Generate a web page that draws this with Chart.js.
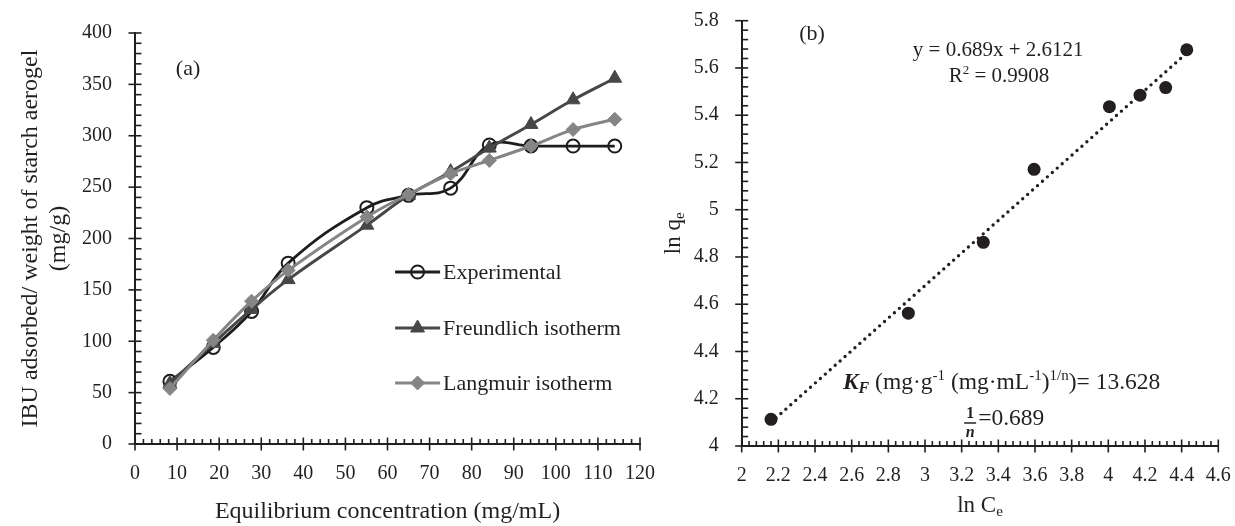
<!DOCTYPE html>
<html>
<head>
<meta charset="utf-8">
<title>IBU adsorption isotherms</title>
<script src="https://cdn.jsdelivr.net/npm/chart.js@4.4.1/dist/chart.umd.min.js"></script>
<style>
  html, body { margin: 0; padding: 0; background: #fff; }
  #wrap { position: relative; width: 1235px; height: 526px; overflow: hidden; }
  #wrap canvas { position: absolute; top: 0; }
  #isoA { left: 0; }
  #isoB { left: 630px; }
</style>
</head>
<body>
<div id="wrap">
  <canvas id="isoA" width="660" height="526"></canvas>
  <canvas id="isoB" width="605" height="526"></canvas>
</div>
<script>
// (a) equilibrium concentration (mg/mL) vs amount adsorbed (mg/g)
var ceConc      = [8.3, 18.6, 27.7, 36.4, 55.1, 65.0, 75.0, 84.2, 94.1, 104.1, 114.0];
var qExp        = [61, 94, 129, 176, 230, 242, 249, 291, 290, 290, 290];
var qFreundlich = [59, 98, 131, 160, 213, 242, 265, 288, 311, 335, 356];
var qLangmuir   = [54, 101, 139, 169, 221, 243, 263, 276, 290, 306, 316];
var seriesNames = ['Experimental', 'Freundlich isotherm', 'Langmuir isotherm'];

// (b) linearised Freundlich plot
var lnCe = [2.16, 2.909, 3.318, 3.595, 4.006, 4.173, 4.313, 4.428];
var lnQe = [4.113, 4.562, 4.862, 5.171, 5.436, 5.485, 5.517, 5.677];
var fitSlope = 0.689, fitIntercept = 2.6121, fitR2 = 0.9908;
var kF = 13.628, nInv = 0.689;

var ink = '#231f20';
var serif = '"Liberation Serif", "Times New Roman", serif';
function font(size, style) { return (style ? style + ' ' : '') + size + 'px ' + serif; }

function pts(xs, ys) { return xs.map(function (x, i) { return {x: x, y: ys[i]}; }); }

// text pieces sharing one baseline (sub/superscripts via dy)
function drawRuns(ctx, runs, x, y, align) {
  var w = 0;
  runs.forEach(function (r) { ctx.font = r.font; w += ctx.measureText(r.text).width; });
  var cx = align === 'center' ? x - w / 2 : x;
  runs.forEach(function (r) {
    ctx.font = r.font;
    ctx.fillText(r.text, cx, y + (r.dy || 0));
    cx += ctx.measureText(r.text).width;
  });
}

// major ticks cross the axis, minor ticks sit inside the plot
var axisMarks = {
  id: 'axisMarks',
  afterDraw: function (chart, args, opts) {
    var ctx = chart.ctx, area = chart.chartArea;
    ctx.save();
    ctx.strokeStyle = ink;
    ctx.lineWidth = 1.6;
    function mark(id, p, outLen, inLen) {
      ctx.beginPath();
      if (id === 'x') { ctx.moveTo(p, area.bottom + outLen); ctx.lineTo(p, area.bottom - inLen); }
      else { ctx.moveTo(area.left - outLen, p); ctx.lineTo(area.left + inLen, p); }
      ctx.stroke();
    }
    ['x', 'y'].forEach(function (id) {
      var s = chart.scales[id];
      var vals = s.ticks.map(function (t) { return t.value; });
      var n = opts.subdivisions;
      for (var i = 0; i < vals.length; i++) {
        mark(id, s.getPixelForValue(vals[i]), opts.major, opts.major);
        if (i === vals.length - 1) continue;
        for (var j = 1; j < n; j++) {
          mark(id, s.getPixelForValue(vals[i] + (vals[i + 1] - vals[i]) * j / n), 0, opts.minor[id]);
        }
      }
    });
    ctx.restore();
  }
};

// line + marker legend placed inside panel (a)
var legendA = {
  id: 'legendA',
  afterDraw: function (chart, args, opts) {
    var ctx = chart.ctx, xs = chart.scales.x, ys = chart.scales.y;
    var x0 = xs.getPixelForValue(opts.x), len = opts.lineLength;
    ctx.save();
    chart.data.datasets.forEach(function (ds, i) {
      var y = ys.getPixelForValue(opts.rows[i]);
      ctx.strokeStyle = ds.borderColor;
      ctx.lineWidth = ds.borderWidth;
      ctx.beginPath(); ctx.moveTo(x0, y); ctx.lineTo(x0 + len, y); ctx.stroke();
      ctx.fillStyle = ds.pointBackgroundColor;
      ctx.strokeStyle = ds.pointBorderColor;
      ctx.lineWidth = ds.pointBorderWidth;
      Chart.helpers.drawPoint(ctx, {pointStyle: ds.pointStyle, radius: ds.pointRadius, rotation: 0, borderWidth: ds.pointBorderWidth}, x0 + len / 2, y);
      ctx.fillStyle = ink;
      ctx.font = font(22);
      ctx.textBaseline = 'middle';
      ctx.textAlign = 'left';
      ctx.fillText(ds.label, x0 + len + 3, y + 1);
    });
    ctx.restore();
  }
};

var notesA = {
  id: 'notesA',
  afterDraw: function (chart) {
    var ctx = chart.ctx;
    ctx.save();
    ctx.fillStyle = ink;
    ctx.textBaseline = 'alphabetic';
    drawRuns(ctx, [{text: '(a)', font: font(22)}], chart.scales.x.getPixelForValue(12.6), chart.scales.y.getPixelForValue(359), 'center');
    ctx.restore();
  }
};

var notesB = {
  id: 'notesB',
  afterDraw: function (chart) {
    var ctx = chart.ctx, xs = chart.scales.x, ys = chart.scales.y, a = chart.chartArea;
    var big = font(21), sup = font(13);
    var kFont = font(23.5), kSup = font(15);
    ctx.save();
    ctx.fillStyle = ink;
    ctx.textBaseline = 'alphabetic';
    ctx.textAlign = 'left';

    drawRuns(ctx, [{text: '(b)', font: font(22)}], xs.getPixelForValue(2.384), ys.getPixelForValue(5.718), 'center');
    drawRuns(ctx, [{text: 'y = ' + fitSlope + 'x + ' + fitIntercept, font: big}], xs.getPixelForValue(3.399), ys.getPixelForValue(5.650), 'center');
    drawRuns(ctx, [{text: 'R', font: big}, {text: '2', font: sup, dy: -8}, {text: ' = ' + fitR2, font: big}],
      xs.getPixelForValue(3.404), ys.getPixelForValue(5.540), 'center');

    drawRuns(ctx, [
      {text: 'K', font: font(23.5, 'italic bold')},
      {text: 'F', font: font(16, 'italic bold'), dy: 4},
      {text: ' (mg\u00b7g', font: kFont},
      {text: '-1', font: kSup, dy: -9},
      {text: ' (mg\u00b7mL', font: kFont},
      {text: '-1', font: kSup, dy: -9},
      {text: ')', font: kFont},
      {text: '1/n', font: kSup, dy: -9},
      {text: ')= ' + kF, font: kFont}
    ], xs.getPixelForValue(2.552), ys.getPixelForValue(4.241), 'left');

    // 1/n written as a stacked fraction
    var fx = xs.getPixelForValue(3.29), fy = ys.getPixelForValue(4.089);
    ctx.textAlign = 'center';
    ctx.font = font(16, 'bold');
    ctx.fillText('1', fx - 8, fy - 7);
    ctx.font = font(16, 'italic bold');
    ctx.fillText('n', fx - 8, fy + 12);
    ctx.strokeStyle = ink;
    ctx.lineWidth = 1.5;
    ctx.beginPath(); ctx.moveTo(fx - 14, fy - 2); ctx.lineTo(fx - 2, fy - 2); ctx.stroke();
    ctx.textAlign = 'left';
    drawRuns(ctx, [{text: '=' + nInv, font: kFont}], fx, fy, 'left');

    // axis titles with subscripts
    drawRuns(ctx, [{text: 'ln C', font: font(23)}, {text: 'e', font: font(15), dy: 4}], (a.left + a.right) / 2, a.bottom + 66, 'center');
    ctx.translate(a.left - 62, (a.top + a.bottom) / 2);
    ctx.rotate(-Math.PI / 2);
    drawRuns(ctx, [{text: 'ln q', font: font(23)}, {text: 'e', font: font(15), dy: 4}], 0, 0, 'center');
    ctx.restore();
  }
};

var tickFont = {family: serif, size: 20};
var titleFont = {family: serif, size: 24};
function plainNum(v) { return String(+Number(v).toFixed(2)); }

// label offset comes from an invisible tick length so the layout
// does not reserve extra room for ticks.padding at the axis ends
function hiddenGrid(len) {
  return {display: false, drawTicks: true, tickLength: len, tickColor: 'rgba(0,0,0,0)'};
}

new Chart(document.getElementById('isoA'), {
  type: 'line',
  data: {
    datasets: [{
      label: seriesNames[0],
      data: pts(ceConc, qExp),
      borderColor: '#1d1d1d', borderWidth: 2.8, tension: 0.4,
      pointStyle: 'circle', pointRadius: 6.5, pointBorderWidth: 2,
      pointBorderColor: '#1d1d1d', pointBackgroundColor: 'rgba(255,255,255,0)',
      order: 3
    }, {
      label: seriesNames[1],
      data: pts(ceConc, qFreundlich),
      borderColor: '#474747', borderWidth: 3, tension: 0.4,
      pointStyle: 'triangle', pointRadius: 8, pointBorderWidth: 1,
      pointBorderColor: '#474747', pointBackgroundColor: '#474747',
      order: 2
    }, {
      label: seriesNames[2],
      data: pts(ceConc, qLangmuir),
      borderColor: '#858585', borderWidth: 3, tension: 0.4,
      pointStyle: 'rectRot', pointRadius: 7, pointBorderWidth: 1,
      pointBorderColor: '#858585', pointBackgroundColor: '#858585',
      order: 1
    }]
  },
  options: {
    responsive: false,
    animation: false,
    devicePixelRatio: 1,
    layout: {padding: {top: 33, right: 20, left: 0, bottom: 0}},
    plugins: {
      legend: {display: false},
      tooltip: {enabled: false},
      axisMarks: {major: 6.5, minor: {x: 5, y: 6.5}, subdivisions: 5},
      legendA: {x: 61.8, rows: [167.4, 112.9, 59.4], lineLength: 45}
    },
    scales: {
      x: {
        type: 'linear', min: 0, max: 120,
        grid: hiddenGrid(18),
        border: {display: true, color: ink, width: 2},
        ticks: {stepSize: 10, font: tickFont, color: ink, padding: 0, maxRotation: 0},
        title: {display: true, text: 'Equilibrium concentration (mg/mL)', font: titleFont, color: ink, padding: {top: 0, bottom: 0}},
        afterFit: function (s) { s.height = 82; }
      },
      y: {
        type: 'linear', min: 0, max: 400,
        grid: hiddenGrid(23),
        border: {display: true, color: ink, width: 2},
        ticks: {stepSize: 50, font: tickFont, color: ink, padding: 0},
        title: {display: true, text: ['IBU adsorbed/ weight of starch aerogel', '(mg/g)'], font: titleFont, color: ink, padding: {top: 16, bottom: 0}},
        afterFit: function (s) { s.width = 135; }
      }
    }
  },
  plugins: [axisMarks, legendA, notesA]
});

new Chart(document.getElementById('isoB'), {
  type: 'scatter',
  data: {
    datasets: [{
      label: 'ln qe',
      data: pts(lnCe, lnQe),
      pointRadius: 6.5, pointBorderWidth: 0,
      pointBackgroundColor: ink, pointBorderColor: ink
    }, {
      label: 'Linear fit',
      data: [lnCe[0], lnCe[lnCe.length - 1]].map(function (x) { return {x: x, y: fitSlope * x + fitIntercept}; }),
      showLine: true, pointRadius: 0,
      borderColor: ink, borderWidth: 3.4, borderDash: [0, 6.6], borderCapStyle: 'round'
    }]
  },
  options: {
    responsive: false,
    animation: false,
    devicePixelRatio: 1,
    layout: {padding: {top: 20.7, right: 16.7, left: 0, bottom: 0}},
    plugins: {
      legend: {display: false},
      tooltip: {enabled: false},
      axisMarks: {major: 6.5, minor: {x: 5, y: 6.5}, subdivisions: 5}
    },
    scales: {
      x: {
        type: 'linear', min: 2, max: 4.6,
        grid: hiddenGrid(18),
        border: {display: true, color: ink, width: 2},
        ticks: {stepSize: 0.2, font: tickFont, color: ink, padding: 0, maxRotation: 0, callback: plainNum},
        afterFit: function (s) { s.height = 80; }
      },
      y: {
        type: 'linear', min: 4, max: 5.8,
        grid: hiddenGrid(23),
        border: {display: true, color: ink, width: 2},
        ticks: {stepSize: 0.2, font: tickFont, color: ink, padding: 0, callback: plainNum},
        afterFit: function (s) { s.width = 111.7; }
      }
    }
  },
  plugins: [axisMarks, notesB]
});
</script>
</body>
</html>
